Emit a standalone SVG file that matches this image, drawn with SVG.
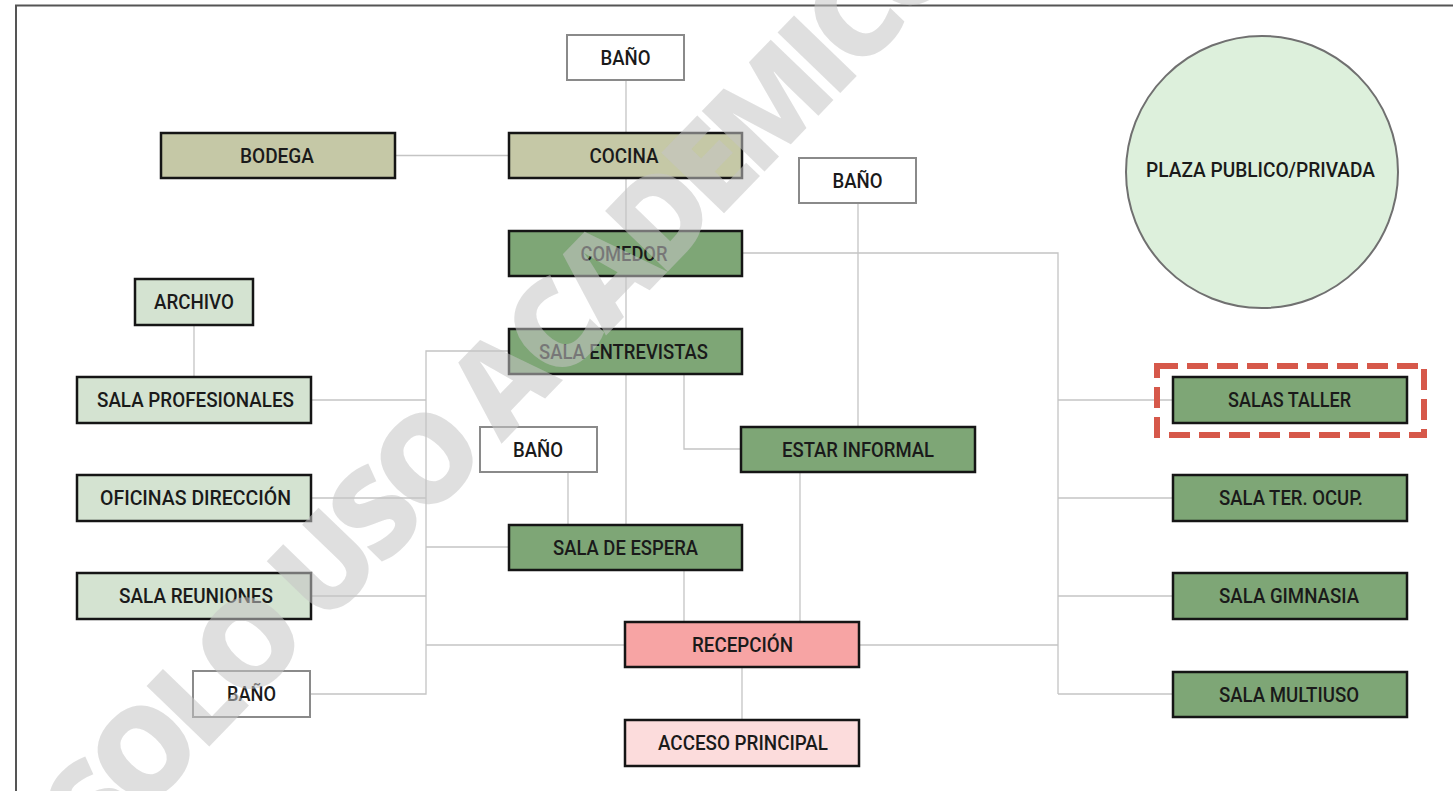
<svg xmlns="http://www.w3.org/2000/svg" width="1453" height="791" viewBox="0 0 1453 791">
<style>
.box{stroke:#151515;stroke-width:2.5}
.wc{fill:#ffffff;stroke:#8a8a8a;stroke-width:2}
.olive{fill:#c5c8a6}
.dg{fill:#7ea676}
.lg{fill:#d4e3d1}
.rec{fill:#f7a4a4}
.acc{fill:#fcdcdc}
.lbl{font-family:Roboto,"Liberation Sans",sans-serif;font-weight:500;font-size:20px;fill:#1a1a1a;text-anchor:middle}
.conn{fill:none;stroke:#c4c4c4;stroke-width:1.3}
</style>
<rect width="1453" height="791" fill="#ffffff"/>
<path d="M16,791 V5.5 H1453" fill="none" stroke="#555555" stroke-width="2"/>
<g id="connectors" class="conn">
<path d="M626,80 V525"/>
<path d="M395,155.5 H509"/>
<path d="M858,203 V427"/>
<path d="M742,253 H1058 V694"/>
<path d="M1058,400 H1173"/>
<path d="M1058,498 H1173"/>
<path d="M1058,596 H1173"/>
<path d="M1058,694 H1173"/>
<path d="M859,645 H1058"/>
<path d="M194,325 V377"/>
<path d="M509,351 H426 V694 H310"/>
<path d="M311,400 H426"/>
<path d="M311,498 H426"/>
<path d="M311,596 H426"/>
<path d="M426,547 H509"/>
<path d="M426,645 H625"/>
<path d="M684,374 V449 H741"/>
<path d="M568,472 V525"/>
<path d="M800,472 V622"/>
<path d="M684,570 V622"/>
<path d="M742,667 V720"/>
</g>
<g id="bano1"><rect class="wc" x="567" y="35" width="117" height="45"/><text class="lbl" x="625.5" y="64.5" textLength="50" lengthAdjust="spacingAndGlyphs">BAÑO</text></g>
<g id="bodega"><rect class="box olive" x="161" y="133" width="234" height="45"/><text class="lbl" x="277" y="162.5" textLength="74" lengthAdjust="spacingAndGlyphs">BODEGA</text></g>
<g id="cocina"><rect class="box olive" x="509" y="133" width="233" height="45"/><text class="lbl" x="624" y="162.5" textLength="69" lengthAdjust="spacingAndGlyphs">COCINA</text></g>
<g id="bano2"><rect class="wc" x="799" y="158" width="117" height="45"/><text class="lbl" x="857.5" y="187.5" textLength="50" lengthAdjust="spacingAndGlyphs">BAÑO</text></g>
<g id="comedor"><rect class="box dg" x="509" y="231" width="233" height="45"/><text class="lbl" x="624" y="260.5" textLength="87" lengthAdjust="spacingAndGlyphs">COMEDOR</text></g>
<g id="archivo"><rect class="box lg" x="135" y="279" width="118" height="46"/><text class="lbl" x="194" y="309" textLength="80" lengthAdjust="spacingAndGlyphs">ARCHIVO</text></g>
<g id="sala-profesionales"><rect class="box lg" x="77" y="377" width="234" height="46"/><text class="lbl" x="195.5" y="407" textLength="197" lengthAdjust="spacingAndGlyphs">SALA PROFESIONALES</text></g>
<g id="oficinas-direccion"><rect class="box lg" x="77" y="475" width="234" height="46"/><text class="lbl" x="195.5" y="505" textLength="191" lengthAdjust="spacingAndGlyphs">OFICINAS DIRECCIÓN</text></g>
<g id="sala-reuniones"><rect class="box lg" x="77" y="573" width="234" height="46"/><text class="lbl" x="196" y="603" textLength="154" lengthAdjust="spacingAndGlyphs">SALA REUNIONES</text></g>
<g id="bano-left"><rect class="wc" x="193" y="671" width="117" height="46"/><text class="lbl" x="251.5" y="701" textLength="49" lengthAdjust="spacingAndGlyphs">BAÑO</text></g>
<g id="sala-entrevistas"><rect class="box dg" x="509" y="329" width="233" height="45"/><text class="lbl" x="623.5" y="358.5" textLength="169" lengthAdjust="spacingAndGlyphs">SALA ENTREVISTAS</text></g>
<g id="bano-mid"><rect class="wc" x="480" y="427" width="117" height="45"/><text class="lbl" x="538" y="456.5" textLength="50" lengthAdjust="spacingAndGlyphs">BAÑO</text></g>
<g id="estar-informal"><rect class="box dg" x="741" y="427" width="234" height="45"/><text class="lbl" x="858" y="456.5" textLength="152" lengthAdjust="spacingAndGlyphs">ESTAR INFORMAL</text></g>
<g id="sala-espera"><rect class="box dg" x="509" y="525" width="233" height="45"/><text class="lbl" x="625.5" y="554.5" textLength="145" lengthAdjust="spacingAndGlyphs">SALA DE ESPERA</text></g>
<g id="recepcion"><rect class="box rec" x="625" y="622" width="234" height="45"/><text class="lbl" x="742.5" y="651.5" textLength="101" lengthAdjust="spacingAndGlyphs">RECEPCIÓN</text></g>
<g id="acceso-principal"><rect class="box acc" x="625" y="720" width="234" height="46"/><text class="lbl" x="743" y="750" textLength="170" lengthAdjust="spacingAndGlyphs">ACCESO PRINCIPAL</text></g>
<g id="salas-taller"><rect class="box dg" x="1173" y="377" width="234" height="46"/><text class="lbl" x="1289.5" y="407" textLength="123" lengthAdjust="spacingAndGlyphs">SALAS TALLER</text><rect x="1157" y="366" width="267" height="69" fill="none" stroke="#d6584a" stroke-width="6" stroke-dasharray="21 9"/></g>
<g id="sala-ter-ocup"><rect class="box dg" x="1173" y="475" width="234" height="46"/><text class="lbl" x="1291" y="505" textLength="144" lengthAdjust="spacingAndGlyphs">SALA TER. OCUP.</text></g>
<g id="sala-gimnasia"><rect class="box dg" x="1173" y="573" width="234" height="46"/><text class="lbl" x="1289" y="603" textLength="140" lengthAdjust="spacingAndGlyphs">SALA GIMNASIA</text></g>
<g id="sala-multiuso"><rect class="box dg" x="1173" y="672" width="234" height="45"/><text class="lbl" x="1289" y="701.5" textLength="140" lengthAdjust="spacingAndGlyphs">SALA MULTIUSO</text></g>
<g id="plaza"><circle cx="1262" cy="172" r="136" fill="#ddf0dc" stroke="#707070" stroke-width="2"/><text class="lbl" x="1260.5" y="177" font-size="19" textLength="229" lengthAdjust="spacingAndGlyphs">PLAZA PUBLICO/PRIVADA</text></g>
<text x="536" y="408" transform="rotate(-46 536 408)" font-family="'Open Sans','Noto Sans',sans-serif" font-weight="800" font-size="122" fill="#c4c4c4" fill-opacity="0.55" text-anchor="middle" textLength="1260" lengthAdjust="spacing">SOLO USO ACADEMICO</text>
</svg>
